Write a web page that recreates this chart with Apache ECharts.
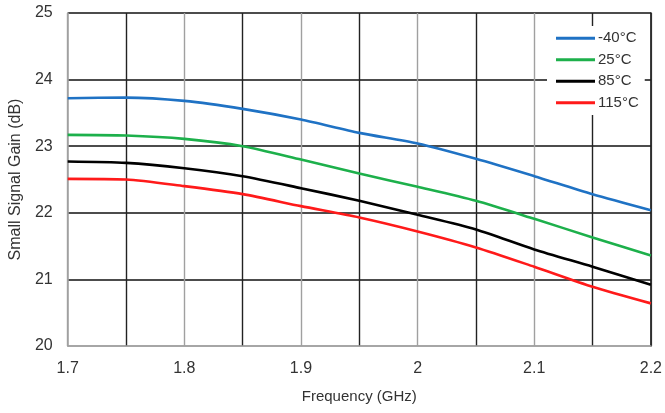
<!DOCTYPE html>
<html>
<head>
<meta charset="utf-8">
<script src="https://cdn.jsdelivr.net/npm/echarts@6/dist/echarts.min.js"></script>
<style>
  html, body { margin: 0; padding: 0; background: #fff; }
  #chart { width: 665px; height: 413px; }
</style>
</head>
<body>
<div id="chart"></div>
<script>
// frequency points (GHz)
const freq = [1.7, 1.75, 1.8, 1.85, 1.9, 1.95, 2.0, 2.05, 2.1, 2.15, 2.2]

// small signal gain (dB) per temperature
const gainM40 = [23.72, 23.73, 23.68, 23.56, 23.40, 23.20, 23.04, 22.81, 22.55, 22.28, 22.04]
const gain25 = [23.17, 23.16, 23.11, 23.00, 22.80, 22.59, 22.39, 22.18, 21.91, 21.63, 21.36]
const gain85 = [22.77, 22.75, 22.67, 22.55, 22.37, 22.18, 21.97, 21.75, 21.45, 21.19, 20.92]
const gain115 = [22.51, 22.50, 22.40, 22.28, 22.10, 21.93, 21.72, 21.48, 21.19, 20.89, 20.64]

const seriesNames = ['-40°C', '25°C', '85°C', '115°C']
const colors = ['#1f72c4', '#1db04b', '#000000', '#ff1a1a']

const FONT = '"Liberation Sans", Arial, sans-serif'

const chart = echarts.init(document.getElementById('chart'), null, { renderer: 'canvas' })

const pair = arr => freq.map((f, i) => [f, arr[i]])

function makeLine(name, data, color) {
  return {
    name,
    type: 'line',
    data: pair(data),
    symbol: 'none',
    smooth: 0.25,
    lineStyle: { width: 2.6, color },
    itemStyle: { color },
    z: 3
  }
}

chart.setOption({
  backgroundColor: '#fff',
  animation: false,
  grid: { left: 66, right: 12, top: 13, bottom: 67 },
  legend: {
    data: seriesNames,
    orient: 'vertical',
    left: 547,
    top: 26,
    padding: [4, 6, 4, 9],
    backgroundColor: '#fff',
    icon: 'rect',
    itemWidth: 39,
    itemHeight: 3,
    itemGap: 5,
    textStyle: { fontFamily: FONT, fontSize: 15, color: '#333', lineHeight: 16.5, padding: [0, 0, 0, -2] }
  },
  xAxis: {
    type: 'value',
    min: 1.7,
    max: 2.2,
    interval: 0.05,
    name: 'Frequency (GHz)',
    nameLocation: 'middle',
    nameGap: 43,
    nameTextStyle: { fontFamily: FONT, fontSize: 15, color: '#333' },
    axisLine: { show: true, lineStyle: { color: '#a0a0a0', width: 1.5 } },
    axisTick: { show: false },
    axisLabel: {
      fontFamily: FONT,
      fontSize: 16,
      color: '#333',
      margin: 15,
      formatter: v => {
        const k = Math.round(v * 100)
        return k % 10 === 0 ? String(k / 100) : ''
      }
    },
    splitLine: {
      show: true,
      lineStyle: { color: ['#a0a0a0', '#222222'], width: 1.4 }
    }
  },
  yAxis: [
    {
      type: 'value',
      min: 20,
      max: 25,
      interval: 1,
      name: 'Small Signal Gain (dB)',
      nameLocation: 'middle',
      nameGap: 42,
      nameTextStyle: { fontFamily: FONT, fontSize: 16, color: '#333' },
      axisLine: { show: true, lineStyle: { color: '#a0a0a0', width: 1.5 } },
      axisTick: { show: false },
      axisLabel: { fontFamily: FONT, fontSize: 16, color: '#333', margin: 15 },
      splitLine: {
        show: true,
        lineStyle: { color: ['#a0a0a0', '#111', '#111', '#111', '#111', '#111'], width: 1.6 }
      }
    },
    {
      type: 'value',
      min: 20,
      max: 25,
      interval: 1,
      position: 'right',
      axisLine: { show: true, lineStyle: { color: '#111', width: 1.6 } },
      axisTick: { show: false },
      axisLabel: { show: false },
      splitLine: { show: false }
    }
  ],
  series: [
    makeLine(seriesNames[0], gainM40, colors[0]),
    makeLine(seriesNames[1], gain25, colors[1]),
    makeLine(seriesNames[2], gain85, colors[2]),
    makeLine(seriesNames[3], gain115, colors[3])
  ]
})
</script>
</body>
</html>
